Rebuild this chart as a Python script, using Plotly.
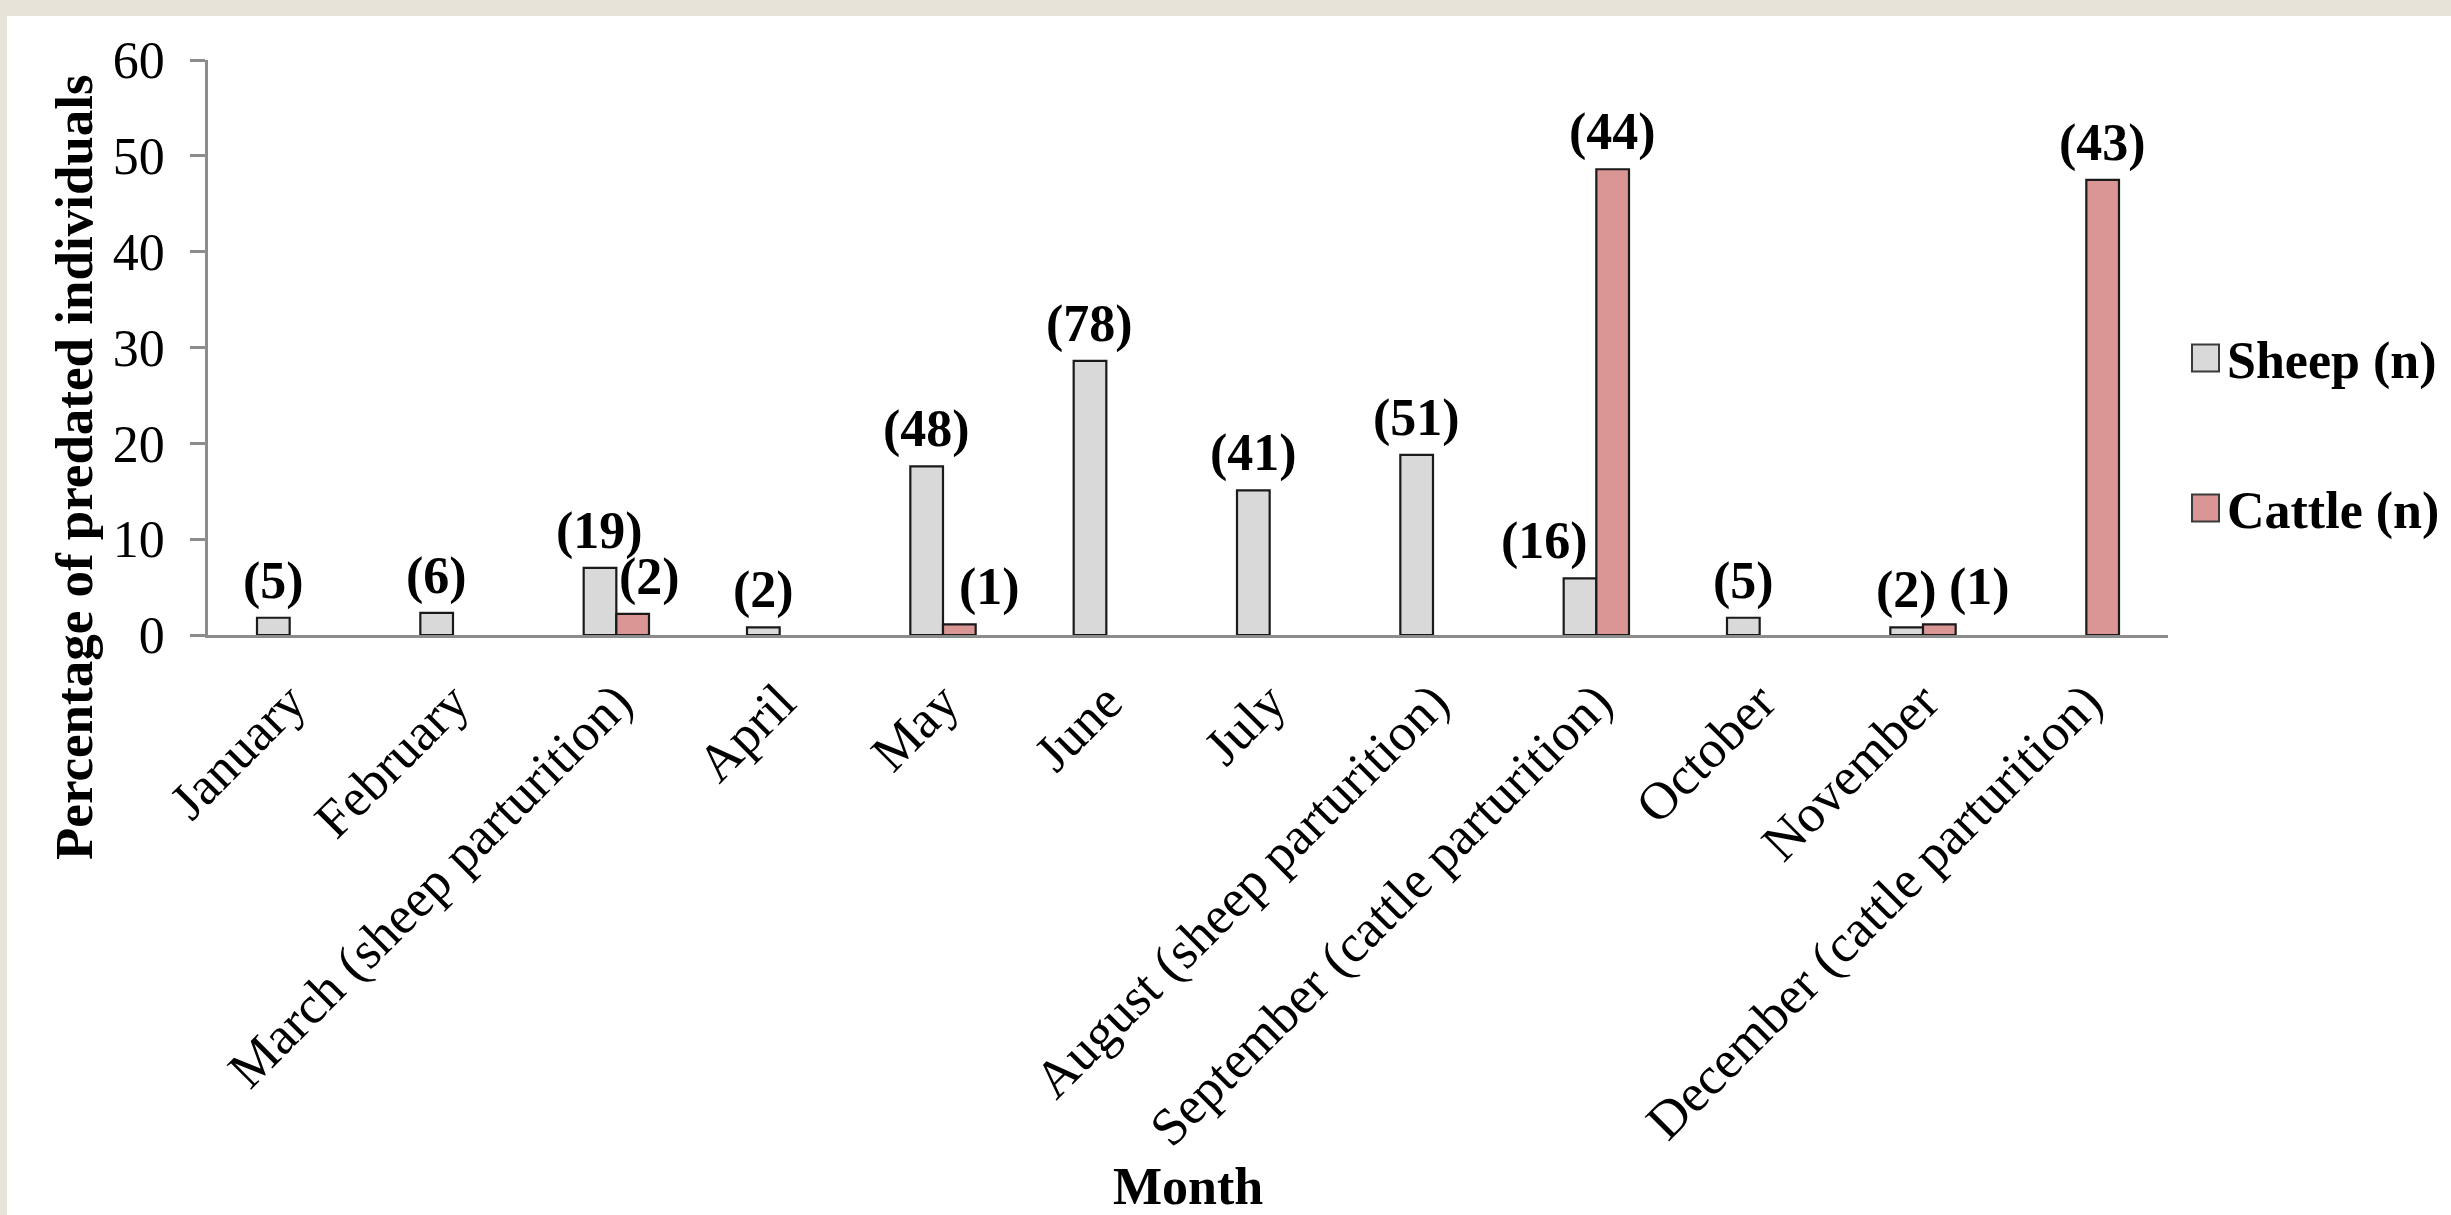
import plotly.graph_objects as go

months = ["January", "February", "March (sheep parturition)", "April", "May", "June",
          "July", "August (sheep parturition)", "September (cattle parturition)",
          "October", "November", "December (cattle parturition)"]
sheep_pct = [1.8, 2.3, 7.0, 0.8, 17.6, 28.6, 15.1, 18.8, 5.9, 1.8, 0.8, None]
cattle_pct = [None, None, 2.2, None, 1.1, None, None, None, 48.6, None, 1.1, 47.5]
sheep_n = ["(5)", "(6)", "(19)", "(2)", "(48)", "(78)", "(41)", "(51)", "(16)", "(5)", "(2)", None]
cattle_n = [None, None, "(2)", None, "(1)", None, None, None, "(44)", None, "(1)", "(43)"]
y_ticks = [0, 10, 20, 30, 40, 50, 60]

# ---- layout constants (pixels) ----
W, H = 2451, 1215
L, R, T, B = 208, 283, 60, 580
PW, PH = W - L - R, H - T - B
BARGAP = 0.6
cat_w = PW / len(months)
bar_w = cat_w * (1 - BARGAP) / 2
FONT = "Liberation Serif"

SHEEP_FILL = "#d9d9d9"
CATTLE_FILL = "#d99694"
OUTLINE = "#1a1a1a"
AXIS = "#8c8c8c"

def px_x(px):
    return (px - L) / PW

def px_y(py):
    return (T + PH - py) / PH

fig = go.Figure()
fig.add_trace(go.Bar(x=months, y=sheep_pct, name="Sheep (n)", showlegend=False,
                     marker=dict(color=SHEEP_FILL, line=dict(color=OUTLINE, width=2.2))))
fig.add_trace(go.Bar(x=months, y=cattle_pct, name="Cattle (n)", showlegend=False,
                     marker=dict(color=CATTLE_FILL, line=dict(color=OUTLINE, width=2.2))))

# legend entries (keys drawn as larger squares below)
fig.add_trace(go.Scatter(x=[None], y=[None], mode="markers", name="Sheep (n)", legend="legend",
                         marker=dict(symbol="square", size=16, color="rgba(0,0,0,0)",
                                     line=dict(width=0))))
fig.add_trace(go.Scatter(x=[None], y=[None], mode="markers", name="Cattle (n)", legend="legend2",
                         marker=dict(symbol="square", size=16, color="rgba(0,0,0,0)",
                                     line=dict(width=0))))

# manual nudges of a few labels (as in the original figure)
label_dx = {("s", 8): -35, ("c", 2): 17, ("c", 4): 30, ("c", 10): 40}

annotations = []
for i, m in enumerate(months):
    for key, vals, labs, sign in (("s", sheep_pct, sheep_n, -1), ("c", cattle_pct, cattle_n, 1)):
        if labs[i] is None or vals[i] is None:
            continue
        annotations.append(dict(
            x=m, y=vals[i], xref="x", yref="y", text=labs[i], showarrow=False,
            xanchor="center", yanchor="bottom",
            xshift=sign * bar_w / 2 + label_dx.get((key, i), 0), yshift=6,
            font=dict(family=FONT, size=52, color="black", weight="bold")))

annotations.append(dict(text="Percentage of predated individuals", textangle=-90,
                        x=px_x(74), y=px_y(467), xref="paper", yref="paper",
                        xanchor="center", yanchor="middle", showarrow=False,
                        font=dict(family=FONT, size=53, color="black", weight="bold")))
annotations.append(dict(text="Month", x=px_x(1188), y=px_y(1186), xref="paper", yref="paper",
                        xanchor="center", yanchor="middle", showarrow=False,
                        font=dict(family=FONT, size=52, color="black", weight="bold")))

KEY_X = 2192
LEG_X = 2187

def key_square(cy, fill):
    s = 27
    return dict(type="rect", xref="paper", yref="paper", layer="above",
                x0=px_x(KEY_X), x1=px_x(KEY_X + s), y0=px_y(cy + s / 2), y1=px_y(cy - s / 2),
                fillcolor=fill, line=dict(color="#3a3a3a", width=2))

fig.update_layout(
    width=W, height=H,
    margin=dict(l=L, r=R, t=T, b=B, autoexpand=False),
    paper_bgcolor="#e8e3d9",
    plot_bgcolor="white",
    barmode="group", bargap=BARGAP, bargroupgap=0,
    font=dict(family=FONT, color="black"),
    annotations=annotations,
    shapes=[dict(type="rect", xref="paper", yref="paper", layer="below",
                 x0=px_x(7), x1=px_x(W + 5), y0=px_y(H + 5), y1=px_y(16),
                 fillcolor="white", line=dict(width=0)),
            key_square(358, SHEEP_FILL),
            key_square(508, CATTLE_FILL)],
    legend=dict(x=px_x(LEG_X), y=px_y(358), xanchor="left", yanchor="middle",
                bgcolor="rgba(0,0,0,0)", borderwidth=0,
                font=dict(family=FONT, size=52, color="black", weight="bold")),
    legend2=dict(x=px_x(LEG_X), y=px_y(508), xanchor="left", yanchor="middle",
                 bgcolor="rgba(0,0,0,0)", borderwidth=0,
                 font=dict(family=FONT, size=52, color="black", weight="bold")),
    xaxis=dict(type="category", categoryorder="array", categoryarray=months,
               tickangle=-45, ticks="", showline=True, linecolor=AXIS, linewidth=2.5,
               showgrid=False, zeroline=False, ticklabelstandoff=12,
               tickfont=dict(family=FONT, size=53, color="black")),
    yaxis=dict(range=[0, 60], tickvals=y_ticks, ticks="outside", ticklen=15,
               tickcolor=AXIS, tickwidth=2.5, showline=True, linecolor=AXIS, linewidth=2.5,
               showgrid=False, zeroline=False, ticklabelstandoff=15,
               tickfont=dict(family=FONT, size=52, color="black")),
)

fig.write_html("out.html")
